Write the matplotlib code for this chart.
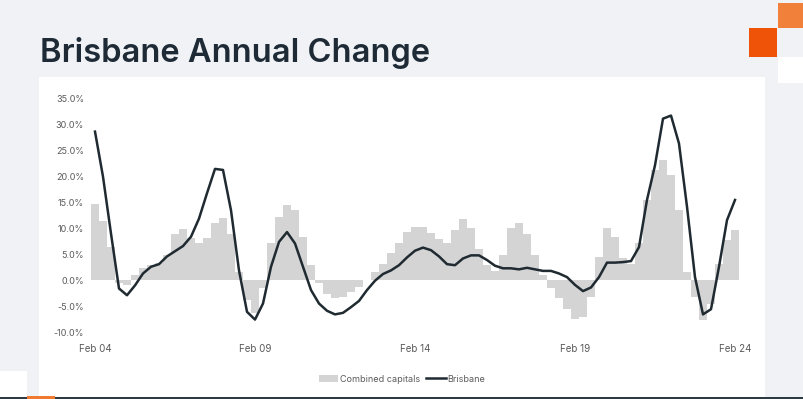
import matplotlib
matplotlib.use("Agg")
import matplotlib.pyplot as plt
from matplotlib.patches import Rectangle, Patch
from matplotlib.lines import Line2D
import numpy as np

# quarterly readings, Feb 2004 .. Feb 2024
quarters = np.arange(81)

combined_capitals = [
    14.7, 11.5, 6.5, -0.5, -0.9, 1.0, 2.3, 2.9, 3.4, 4.8,
    9.0, 9.9, 8.1, 7.2, 8.1, 11.0, 12.0, 9.0, 1.6, -3.9,
    -6.3, -1.5, 7.1, 12.2, 14.5, 13.5, 8.4, 2.9, -0.5, -2.6,
    -3.4, -3.2, -2.3, -1.3, 0.0, 1.6, 3.2, 5.2, 7.1, 9.3,
    10.3, 10.3, 9.2, 7.9, 7.2, 9.7, 11.9, 10.0, 6.1, 2.9,
    1.8, 4.8, 10.0, 11.0, 9.0, 4.8, 1.0, -1.5, -3.5, -5.5,
    -7.4, -7.1, -3.2, 4.5, 10.0, 8.4, 4.2, 3.2, 7.1, 15.5,
    21.3, 23.3, 20.3, 13.5, 1.6, -3.2, -7.7, -4.5, 3.2, 7.7,
    9.7,
]

brisbane = [
    28.7, 20.0, 9.0, -1.6, -2.9, -1.0, 1.3, 2.6, 3.1, 4.6,
    5.6, 6.6, 8.4, 11.9, 16.8, 21.5, 21.3, 13.5, 1.9, -6.1,
    -7.6, -4.5, 2.6, 7.4, 9.3, 7.1, 2.6, -1.9, -4.5, -5.9,
    -6.6, -6.3, -5.2, -4.0, -1.9, -0.1, 1.2, 1.9, 2.9, 4.4,
    5.7, 6.3, 5.8, 4.6, 3.1, 2.9, 4.2, 4.8, 4.8, 3.9,
    2.8, 2.3, 2.3, 2.1, 2.4, 2.1, 1.8, 1.8, 1.3, 0.6,
    -0.9, -2.1, -1.4, 0.6, 3.4, 3.4, 3.5, 3.7, 6.4, 15.5,
    22.2, 31.2, 31.8, 26.4, 14.2, 0.6, -6.6, -5.6, 2.6, 11.6,
    15.5,
]

tick_pos = [0, 20, 40, 60, 80]
tick_labels = ["Feb 04", "Feb 09", "Feb 14", "Feb 19", "Feb 24"]
y_ticks = list(range(-10, 40, 5))

BG = "#f0f2f5"
TITLE_COLOR = "#1e2b36"
BAR_COLOR = "#d4d4d4"
LINE_COLOR = "#1f2a31"
TEXT_COLOR = "#5a5a5a"

W, H = 804, 399
fig = plt.figure(figsize=(W / 100, H / 100), dpi=100)
fig.patch.set_facecolor(BG)


def px_rect(x0, y0, x1, y1, color, z=0):
    # rectangle in pixel coords (top-left origin)
    fig.patches.append(Rectangle((x0 / W, 1 - y1 / H), (x1 - x0) / W, (y1 - y0) / H,
                                 transform=fig.transFigure, color=color, zorder=z, lw=0))


# panel + decorations
px_rect(39, 77, 765, 397, "white", z=-5)
px_rect(778, 3, 804, 28, "#f0803a", z=-5)
px_rect(749, 28, 777, 57, "#ee5308", z=-5)
px_rect(778, 57, 804, 83, "white", z=-5)
px_rect(0, 371, 27, 397, "white", z=-5)
px_rect(0, 397, 804, 399, "#2c3a44", z=-4)
px_rect(27, 396, 55, 399, "#f07a30", z=-3)

fig.text(40 / W, 1 - 62 / H, "Brisbane Annual Change", fontsize=23.5, fontweight="semibold",
         family="Inter", color=TITLE_COLOR, va="baseline", ha="left")

ax = fig.add_axes([91 / W, 1 - 332 / H, 648 / W, 233 / H])
ax.set_zorder(5)
ax.set_facecolor("none")
ax.bar(quarters, combined_capitals, width=1.0, color=BAR_COLOR, lw=0, zorder=1)
ax.plot(quarters, brisbane, color=LINE_COLOR, lw=1.8, zorder=3, solid_joinstyle="round")

ax.set_xlim(-0.5, 80.5)
ax.set_ylim(-10, 35)
ax.set_xticks(tick_pos)
ax.set_xticklabels(tick_labels)
ax.set_yticks(y_ticks)
ax.set_yticklabels([f"{v:.1f}%" for v in y_ticks])
ax.tick_params(length=0, labelsize=6.5, labelcolor=TEXT_COLOR, pad=5)
ax.tick_params(axis="x", pad=9, labelsize=7)
for lab in ax.get_xticklabels() + ax.get_yticklabels():
    lab.set_family("Inter")
for s in ax.spines.values():
    s.set_visible(False)

handles = [Patch(facecolor=BAR_COLOR, edgecolor="none", label="Combined capitals"),
           Line2D([0], [0], color=LINE_COLOR, lw=1.8, label="Brisbane")]
fig.legend(handles=handles, loc="center", bbox_to_anchor=(402 / W, 1 - 379 / H), ncol=2,
           frameon=False, labelcolor=TEXT_COLOR, handlelength=2.2,
           handletextpad=0.2, columnspacing=0.6, prop={"family": "Inter", "size": 6.5})

fig.savefig("out.png", dpi=100, facecolor=BG)
